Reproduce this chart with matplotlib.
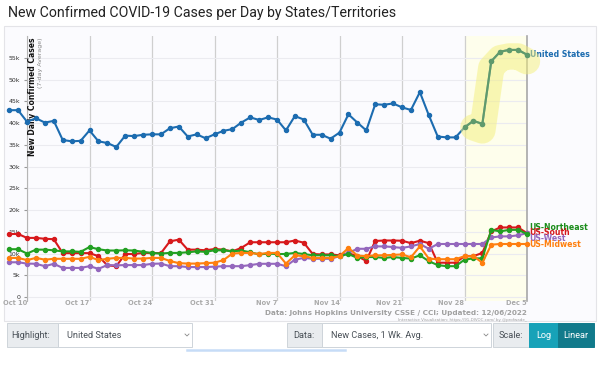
import numpy as np
import matplotlib
matplotlib.use("Agg")
import matplotlib.pyplot as plt
import matplotlib.dates as mdates
from matplotlib.patches import Rectangle
from matplotlib.lines import Line2D

# daily values (thousands), Oct 8 .. Dec 5 2022
dates = np.arange(np.datetime64('2022-10-08'), np.datetime64('2022-12-06'))

us = [42.95, 42.95, 40.3, 41.1, 40.1, 40.5, 36.1, 35.8, 35.9, 38.3, 35.8, 35.4, 34.5, 37.1, 37.0,
      37.3, 37.4, 37.4, 38.8, 39.2, 36.9, 37.4,
      36.5, 37.4, 38.2, 38.6, 40.1, 41.3, 40.7, 41.3, 40.8, 38.3, 41.6, 40.8, 37.3, 37.3, 36.4,
      37.8, 42.0, 40.1, 38.3, 44.3, 44.2, 44.5,
      43.6, 43.0, 47.1, 41.8, 36.9, 36.7, 36.7, 39.0, 40.5, 39.8, 54.2, 56.4, 56.8, 56.8, 55.7]
south = [14.5, 14.5, 13.6, 13.6, 13.4, 13.3, 10.1, 10.1, 10.1, 10.1, 9.4, 7.3, 7.1, 9.9, 9.9,
         10.15, 10.1, 10.1, 12.8, 13.2, 10.9, 10.9, 10.75, 11.05, 10.9, 10.5, 11.3, 12.6, 12.6,
         12.6, 12.6, 12.6, 13.0, 12.5, 9.9, 9.8, 9.8, 9.6, 10.1, 9.4, 8.3, 12.9, 13.0,
         13.0, 12.95, 12.4, 12.95, 12.4, 7.9, 7.9, 7.9, 9.4, 9.4, 10.15, 15.1, 16.0, 16.0, 16.0, 14.7]
northeast = [11.0, 11.0, 10.0, 10.9, 10.9, 10.75, 10.5, 10.5, 10.4, 11.5, 11.0, 10.7, 10.7, 10.75, 10.7,
             10.4, 10.15, 10.0, 10.15, 10.15, 10.3, 10.5, 10.4, 10.75, 10.75, 10.5, 10.7, 10.3, 9.8,
             10.0, 9.9, 9.9, 10.15, 9.9, 9.6, 9.6, 9.6, 9.4, 9.9, 9.0, 9.2, 9.2, 9.0,
             9.2, 9.0, 8.85, 9.6, 8.25, 7.35, 7.1, 7.1, 8.6, 8.9, 8.9, 15.45, 15.1, 15.45, 15.45, 14.5]
midwest = [9.0, 9.0, 8.5, 9.0, 8.6, 8.8, 8.8, 8.8, 8.8, 9.25, 8.5, 8.8, 9.0, 9.0, 8.85,
           8.85, 9.0, 9.0, 8.3, 7.8, 7.7, 7.7, 7.8, 7.9, 8.5, 10.0, 10.15, 10.15, 9.9,
           10.15, 10.15, 7.7, 9.6, 9.4, 9.0, 9.0, 9.0, 9.4, 11.3, 9.55, 9.4, 9.6, 9.6,
           9.7, 9.8, 9.15, 11.65, 8.85, 8.7, 8.7, 8.7, 9.4, 9.4, 7.9, 12.05, 12.2, 12.2, 12.2, 12.2]
west = [8.0, 8.0, 7.7, 7.65, 7.1, 7.65, 6.7, 6.7, 6.7, 7.1, 6.5, 7.35, 7.3, 7.35, 7.35,
        7.35, 7.65, 7.7, 7.1, 7.1, 6.9, 6.9, 6.9, 7.0, 7.1, 7.1, 7.1, 7.35, 7.65,
        7.65, 7.65, 7.1, 8.6, 9.0, 8.8, 8.8, 8.8, 9.4, 10.15, 11.1, 11.1, 11.65, 11.65,
        11.5, 11.3, 11.65, 12.2, 11.1, 12.2, 12.2, 12.2, 12.2, 12.2, 12.2, 13.7, 13.95, 13.95, 14.2, 14.7]

yticks = [0, 5, 10, 15, 20, 25, 30, 35, 40, 45, 50, 55]
ytick_labels = ['0', '5k', '10k', '15k', '20k', '25k', '30k', '35k', '40k', '45k', '50k', '55k']
week_ticks = np.arange(np.datetime64('2022-10-10'), np.datetime64('2022-12-06'), 7)
week_labels = ['Oct 10', 'Oct 17', 'Oct 24', 'Oct 31', 'Nov 7', 'Nov 14', 'Nov 21', 'Nov 28', 'Dec 5']

W, H = 600, 388
fig = plt.figure(figsize=(6, 3.88), dpi=100)
fig.patch.set_facecolor('white')

def px(x, y):
    return x / W, 1 - y / H

# outer panel
p0 = px(4, 321)
fig.patches.append(Rectangle(p0, 592 / W, (321 - 26) / H, transform=fig.transFigure,
                             fc='#fbfbfe', ec='#e4e4e8', lw=0.8, zorder=-5))

fig.text(*px(8, 13), 'New Confirmed COVID-19 Cases per Day by States/Territories',
         family='Roboto', fontsize=10.2, color='#222222', va='center', ha='left')

l, b = px(27, 301)
r, t = px(527, 36)
ax = fig.add_axes([l, b, r - l, t - b])
ax.set_facecolor('none')
ax.set_zorder(2)

x = mdates.date2num(dates)
ax.set_xlim(mdates.date2num(np.datetime64('2022-10-10')), mdates.date2num(np.datetime64('2022-12-05')))
ax.set_ylim(-0.9, 60)

# highlighted week
ax.axvspan(mdates.date2num(np.datetime64('2022-11-28')), x[-1], color='#fefeec', zorder=0)

ax.set_yticks(yticks)
ax.set_yticklabels(ytick_labels)
ax.set_xticks(mdates.date2num(week_ticks))
ax.set_xticklabels(week_labels, ha='right')
ax.tick_params(axis='y', length=2, color='#999999', labelsize=4.5, labelcolor='#333333', pad=3)
ax.tick_params(axis='x', length=0, labelsize=4.8, labelcolor='#aaaaaa', pad=-0.5)
for lab in ax.get_xticklabels():
    lab.set_fontweight('bold')
ax.grid(axis='y', color='#ebebf0', lw=0.8)
ax.grid(axis='x', color='#cfcfcf', lw=0.9)
ax.set_axisbelow(True)
for s in ['top', 'bottom']:
    ax.spines[s].set_visible(False)
ax.spines['left'].set_color('#b5b5b5')
ax.spines['right'].set_color('#a8a8a8')
ax.spines['right'].set_linewidth(1.2)

kw = dict(marker='o', ms=2.9, lw=1.5, clip_on=False)
ax.plot(x, south, color='#d7191c', zorder=3, **kw)
ax.plot(x, west, color='#9467bd', zorder=3.1, **kw)
ax.plot(x, northeast, color='#22a022', zorder=3.2, **kw)
ax.plot(x, midwest, color='#ff7f0e', zorder=3.3, **kw)
ax.plot(x, us, color='#1c6cb0', zorder=3.4, **kw)

# yellow marker stroke over the last week of the US line
hl = np.array(us[52:]) - 1.5
ax.plot(x[52:], hl, color='#f4f07a', alpha=0.5, lw=19, solid_capstyle='round',
        solid_joinstyle='round', clip_on=False, zorder=3.5)
ax.plot(x[51:], us[51:], color='#5f9a6c', zorder=3.6, **kw)

# end labels
lab_kw = dict(xycoords='data', textcoords='offset points', fontsize=5.6, fontweight='bold',
              va='center', ha='left', annotation_clip=False)
ax.annotate('United States', (x[-1], us[-1]), xytext=(2, 0.5), color='#1c6cb0', **lab_kw)
ax.annotate('US-Northeast', (x[-1], northeast[-1]), xytext=(1.5, 5.0), color='#1a8c1a', **lab_kw)
ax.annotate('US-South', (x[-1], south[-1]), xytext=(1.5, 0.2), color='#d7191c', **lab_kw)
ax.annotate('US-West', (x[-1], west[-1]), xytext=(1.5, -3.7), color='#9467bd', **lab_kw)
ax.annotate('US-Midwest', (x[-1], midwest[-1]), xytext=(1.5, -0.2), color='#ff7f0e', **lab_kw)

# y axis title
ax.text(0.011, 0.995, 'New Daily Confirmed Cases', transform=ax.transAxes, rotation=90,
        va='top', ha='center', fontsize=5.5, fontweight='bold', color='#111111')
ax.text(0.027, 0.995, '(7-day Average)', transform=ax.transAxes, rotation=90,
        va='top', ha='center', fontsize=4.5, color='#888888')

fig.text(*px(527, 313), 'Data: Johns Hopkins University CSSE / CCI; Updated: 12/06/2022',
         fontsize=5.2, fontweight='bold', color='#a0a0a0', ha='right', va='center')
fig.text(*px(527, 319.5), 'Interactive Visualization: https://91-DIVOC.com/ by @profwade_',
         fontsize=2.9, color='#a0a0a0', ha='right', va='center')

# control bar
def box(x0, x1, fc, ec='#ced4da'):
    fig.patches.append(Rectangle(px(x0, 347), (x1 - x0) / W, 24 / H, transform=fig.transFigure,
                                 fc=fc, ec=ec, lw=0.7, zorder=1))

def chevron(xc):
    fig.lines.append(Line2D([(xc - 2) / W, xc / W, (xc + 2) / W],
                            [1 - 334 / H, 1 - 336 / H, 1 - 334 / H],
                            transform=fig.transFigure, color='#888888', lw=0.6))

box(7, 58, '#e9ecef')
box(58, 192, 'white')
box(287, 322, '#e9ecef')
box(322, 491, 'white')
box(493, 529, '#e9ecef')
box(529, 558, '#17a2b8', '#17a2b8')
box(558, 594, '#117a8b', '#117a8b')
chevron(187)
chevron(486)
fig.lines.append(Line2D([187 / W, 345 / W], [1 - 350 / H, 1 - 350 / H], transform=fig.transFigure,
                        color='#c6dcf7', lw=1.8))

ctl = dict(family='Roboto', fontsize=6.6, va='center', ha='left')
fig.text(*px(11, 335), 'Highlight:', color='#495057', **ctl)
fig.text(*px(67, 335), 'United States', color='#495057', **ctl)
fig.text(*px(293, 335), 'Data:', color='#495057', **ctl)
fig.text(*px(331, 335), 'New Cases, 1 Wk. Avg.', color='#495057', **ctl)
fig.text(*px(499, 335), 'Scale:', color='#495057', **ctl)
fig.text(*px(543.5, 335), 'Log', color='white', **dict(ctl, ha='center'))
fig.text(*px(576, 335), 'Linear', color='white', **dict(ctl, ha='center'))

fig.savefig('out.png', dpi=100)
